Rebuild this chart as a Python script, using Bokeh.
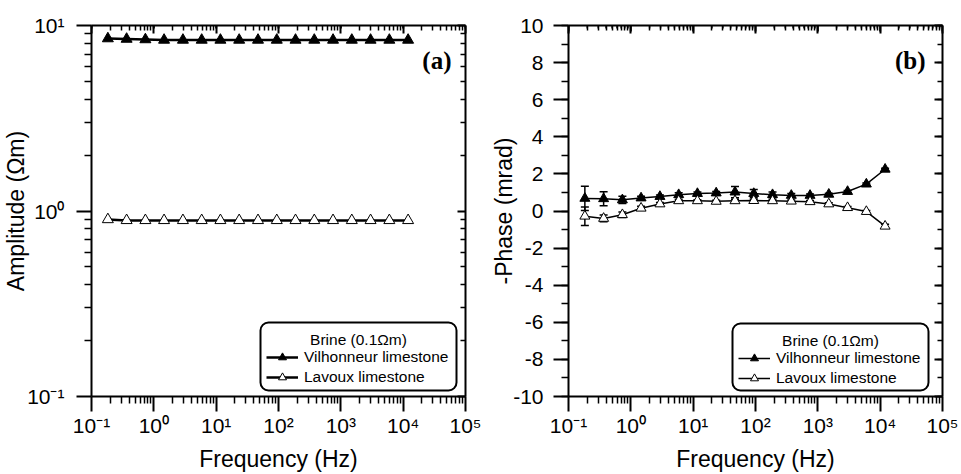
import numpy as np
from bokeh.plotting import figure
from bokeh.layouts import row
from bokeh.models import (LinearAxis, FixedTicker, SingleIntervalTicker, CustomJSTickFormatter,
                          Legend, LegendItem, Label, BoxAnnotation, Whisker, TeeHead,
                          ColumnDataSource, Range1d)
from bokeh.embed import file_html
from bokeh.resources import INLINE

try:
    from bokeh.models import CustomJSTicker
except ImportError:
    CustomJSTicker = None

# ---------------- data ----------------
freq = [0.183, 0.366, 0.732, 1.46, 2.93, 5.86, 11.7, 23.4, 46.9, 93.8,
        187.5, 375, 750, 1500, 3000, 6000, 12000]

amp_vilhonneur = [8.5, 8.45, 8.4, 8.35, 8.35, 8.35, 8.35, 8.35, 8.35, 8.35,
                  8.35, 8.35, 8.35, 8.35, 8.35, 8.35, 8.35]
amp_lavoux = [0.9, 0.89, 0.89, 0.89, 0.89, 0.89, 0.89, 0.89, 0.89, 0.89,
              0.89, 0.89, 0.89, 0.89, 0.89, 0.89, 0.89]

phase_vilhonneur = [0.68, 0.66, 0.6, 0.7, 0.78, 0.88, 0.94, 0.97, 1.02, 0.94,
                    0.88, 0.84, 0.84, 0.9, 1.05, 1.45, 2.25]
phase_vilhonneur_err = [0.65, 0.38, 0.2, 0.1, 0.08, 0.1, 0.08, 0.08, 0.3, 0.22,
                        0.15, 0.1, 0.08, 0.06, 0.06, 0.06, 0.06]
phase_lavoux = [-0.28, -0.4, -0.2, 0.15, 0.38, 0.55, 0.55, 0.52, 0.55, 0.56,
                0.55, 0.53, 0.5, 0.38, 0.18, -0.03, -0.82]
phase_lavoux_err = [0.5, 0.18, 0.15, 0.1, 0.08, 0.08, 0.06, 0.06, 0.08, 0.08,
                    0.08, 0.06, 0.06, 0.06, 0.06, 0.06, 0.1]

series_names = ["Vilhonneur limestone", "Lavoux limestone"]
legend_title = "Brine (0.1\u03a9m)"
x_title = "Frequency (Hz)"
y_title_a = "Amplitude (\u03a9m)"
y_title_b = "-Phase (mrad)"
panel_tags = ["(a)", "(b)"]

# decade exponents shown on the logarithmic axes
x_exponents = [-1, 0, 1, 2, 3, 4, 5]
ya_exponents = [-1, 0, 1]

FONT = "Liberation Sans"

# figure geometry (px)
W_A, W_B, H = 483, 478, 474
BORDER_A = dict(left=90, right=18, top=21, bottom=77)
BORDER_B = dict(left=85, right=19, top=25, bottom=76)


def log_minor(exps):
    return [float(e + np.log10(m)) for e in exps[:-1] for m in range(2, 10)]


LOG_FMT = CustomJSTickFormatter(code="""
const sup = {"-": "\u207b", "0": "\u2070", "1": "\u00b9", "2": "\u00b2", "3": "\u00b3",
             "4": "\u2074", "5": "\u2075", "6": "\u2076", "7": "\u2077", "8": "\u2078", "9": "\u2079"};
const e = Math.round(tick);
return "10" + String(e).split("").map(c => sup[c]).join("");
""")
LIN_FMT = CustomJSTickFormatter(code="return tick.toFixed(0);")
EMPTY_FMT = CustomJSTickFormatter(code="return '';")


def log_ticker(exps):
    if CustomJSTicker is not None:
        return CustomJSTicker(args=dict(majors=[float(e) for e in exps], minors=log_minor(exps)),
                              major_code="return majors.slice();",
                              minor_code="return minors.slice();")
    return FixedTicker(ticks=exps, minor_ticks=log_minor(exps))


def style_axis(ax, outer):
    ax.axis_line_width = 2
    ax.axis_line_color = "black"
    ax.major_tick_line_width = 2
    ax.minor_tick_line_width = 1.5
    ax.major_tick_line_color = "black"
    ax.minor_tick_line_color = "black"
    if outer:
        ax.major_tick_out = 15
        ax.major_tick_in = 0
        ax.minor_tick_out = 7
        ax.minor_tick_in = 0
        ax.major_label_text_font = FONT
        ax.major_label_text_font_size = "21px"
        ax.major_label_text_color = "black"
        ax.axis_label_text_font = FONT
        ax.axis_label_text_font_size = "23px"
        ax.axis_label_text_font_style = "normal"
        ax.axis_label_text_color = "black"
    else:
        ax.major_tick_out = 0
        ax.major_tick_in = 8
        ax.minor_tick_out = 0
        ax.minor_tick_in = 5
        ax.major_label_text_font_size = "0px"
        ax.major_label_standoff = 0
        ax.formatter = EMPTY_FMT


def add_x_tick_marks(p, frame_h):
    """Frequency-axis tick marks (outward at the bottom, inward at the top)."""
    specs = [(x_exponents, -15, 0, 2), (log_minor(x_exponents), -7, 0, 1.5),
             (x_exponents, frame_h - 8, frame_h, 2), (log_minor(x_exponents), frame_h - 5, frame_h, 1.5)]
    for ticks, lo, hi, lw in specs:
        p.add_layout(Whisker(source=ColumnDataSource(dict(t=[float(t) for t in ticks])), base="t",
                             lower=lo, upper=hi, lower_units="screen", upper_units="screen",
                             dimension="height", line_color="black", line_width=lw,
                             upper_head=None, lower_head=None, level="overlay"))


def make_legend(p, renderers_v, renderers_l, box, title_xy, loc):
    bl, br, bb, bt = box
    p.add_layout(BoxAnnotation(left=bl, right=br, bottom=bb, top=bt,
                               left_units="screen", right_units="screen",
                               top_units="screen", bottom_units="screen",
                               fill_color="white", fill_alpha=1,
                               line_color="black", line_alpha=1, line_width=2,
                               border_radius=8))
    p.add_layout(Label(x=title_xy[0], y=title_xy[1], x_units="screen", y_units="screen",
                       text=legend_title, text_align="center", text_baseline="middle",
                       text_font=FONT, text_font_size="15.5px", text_color="black"))
    leg = Legend(items=[LegendItem(label=series_names[0], renderers=renderers_v),
                        LegendItem(label=series_names[1], renderers=renderers_l)],
                 location=loc, padding=0, margin=0, spacing=0,
                 label_height=20, glyph_height=20, glyph_width=32, label_standoff=6,
                 border_line_alpha=0, background_fill_alpha=0,
                 label_text_font=FONT, label_text_font_size="15.5px",
                 label_text_color="black")
    p.add_layout(leg)


log_freq = np.log10(freq)

# ---------------- panel (a) ----------------
src_a = ColumnDataSource(dict(lf=log_freq,
                              la_v=np.log10(amp_vilhonneur),
                              la_l=np.log10(amp_lavoux)))

pa = figure(width=W_A, height=H, x_axis_location=None, y_axis_location=None,
            x_range=Range1d(x_exponents[0], x_exponents[-1]),
            y_range=Range1d(ya_exponents[0], ya_exponents[-1]),
            output_backend="svg", toolbar_location=None,
            min_border_left=BORDER_A["left"], min_border_right=BORDER_A["right"],
            min_border_top=BORDER_A["top"], min_border_bottom=BORDER_A["bottom"])
pa.xgrid.visible = False
pa.ygrid.visible = False
pa.outline_line_color = None

bottom_a = LinearAxis(ticker=log_ticker(x_exponents), formatter=LOG_FMT, axis_label=x_title,
                      major_label_standoff=2, axis_label_standoff=6)
left_a = LinearAxis(ticker=log_ticker(ya_exponents), formatter=LOG_FMT, axis_label=y_title_a,
                    major_label_standoff=12, axis_label_standoff=-5)
top_a = LinearAxis(ticker=log_ticker(x_exponents))
right_a = LinearAxis(ticker=log_ticker(ya_exponents))
style_axis(bottom_a, True)
style_axis(left_a, True)
style_axis(top_a, False)
style_axis(right_a, False)
pa.add_layout(bottom_a, "below")
pa.add_layout(left_a, "left")
pa.add_layout(top_a, "above")
pa.add_layout(right_a, "right")
add_x_tick_marks(pa, H - BORDER_A["top"] - BORDER_A["bottom"])

lv = pa.line("lf", "la_v", source=src_a, line_color="black", line_width=2.5)
sv = pa.scatter("lf", "la_v", source=src_a, marker="triangle", size=11,
                fill_color="black", line_color="black")
ll = pa.line("lf", "la_l", source=src_a, line_color="black", line_width=2.5)
sl = pa.scatter("lf", "la_l", source=src_a, marker="triangle", size=11,
                fill_color="white", line_color="black", line_width=1)

make_legend(pa, [lv, sv], [ll, sl], (169, 365, 6, 74), (267, 57), (175, 9))
pa.add_layout(Label(x=360, y=336, x_units="screen", y_units="screen", text=panel_tags[0],
                    text_align="right", text_baseline="middle", text_font="Liberation Serif",
                    text_font_style="bold", text_font_size="25px", text_color="black"))

# ---------------- panel (b) ----------------
src_b = ColumnDataSource(dict(
    lf=log_freq,
    ph_v=phase_vilhonneur,
    ph_v_up=[v + e for v, e in zip(phase_vilhonneur, phase_vilhonneur_err)],
    ph_v_lo=[v - e for v, e in zip(phase_vilhonneur, phase_vilhonneur_err)],
    ph_l=phase_lavoux,
    ph_l_up=[v + e for v, e in zip(phase_lavoux, phase_lavoux_err)],
    ph_l_lo=[v - e for v, e in zip(phase_lavoux, phase_lavoux_err)],
))

pb = figure(width=W_B, height=H, x_axis_location=None, y_axis_location=None,
            x_range=Range1d(x_exponents[0], x_exponents[-1]), y_range=Range1d(-10, 10),
            output_backend="svg", toolbar_location=None,
            min_border_left=BORDER_B["left"], min_border_right=BORDER_B["right"],
            min_border_top=BORDER_B["top"], min_border_bottom=BORDER_B["bottom"])
pb.xgrid.visible = False
pb.ygrid.visible = False
pb.outline_line_color = None

bottom_b = LinearAxis(ticker=log_ticker(x_exponents), formatter=LOG_FMT, axis_label=x_title,
                      major_label_standoff=2, axis_label_standoff=6)
left_b = LinearAxis(ticker=SingleIntervalTicker(interval=2, num_minor_ticks=2), formatter=LIN_FMT,
                    axis_label=y_title_b, major_label_standoff=10, axis_label_standoff=-7)
top_b = LinearAxis(ticker=log_ticker(x_exponents))
right_b = LinearAxis(ticker=SingleIntervalTicker(interval=2, num_minor_ticks=2))
style_axis(bottom_b, True)
style_axis(left_b, True)
style_axis(top_b, False)
style_axis(right_b, False)
pb.add_layout(bottom_b, "below")
pb.add_layout(left_b, "left")
pb.add_layout(top_b, "above")
pb.add_layout(right_b, "right")
add_x_tick_marks(pb, H - BORDER_B["top"] - BORDER_B["bottom"])

for up, lo in (("ph_v_up", "ph_v_lo"), ("ph_l_up", "ph_l_lo")):
    pb.add_layout(Whisker(source=src_b, base="lf", upper=up, lower=lo,
                          line_color="black", line_width=1.5,
                          upper_head=TeeHead(size=8, line_width=1.5, line_color="black"),
                          lower_head=TeeHead(size=8, line_width=1.5, line_color="black")))

blv = pb.line("lf", "ph_v", source=src_b, line_color="black", line_width=1.5)
bsv = pb.scatter("lf", "ph_v", source=src_b, marker="triangle", size=10,
                 fill_color="black", line_color="black")
bll = pb.line("lf", "ph_l", source=src_b, line_color="black", line_width=1.5)
bsl = pb.scatter("lf", "ph_l", source=src_b, marker="triangle", size=10,
                 fill_color="white", line_color="black", line_width=1)

make_legend(pb, [blv, bsv], [bll, bsl], (164, 360, 6, 73), (262, 56), (170, 8))
pb.add_layout(Label(x=357, y=336, x_units="screen", y_units="screen", text=panel_tags[1],
                    text_align="right", text_baseline="middle", text_font="Liberation Serif",
                    text_font_style="bold", text_font_size="25px", text_color="black"))

layout = row(pa, pb)
open("out.html", "w").write(file_html(layout, INLINE))
